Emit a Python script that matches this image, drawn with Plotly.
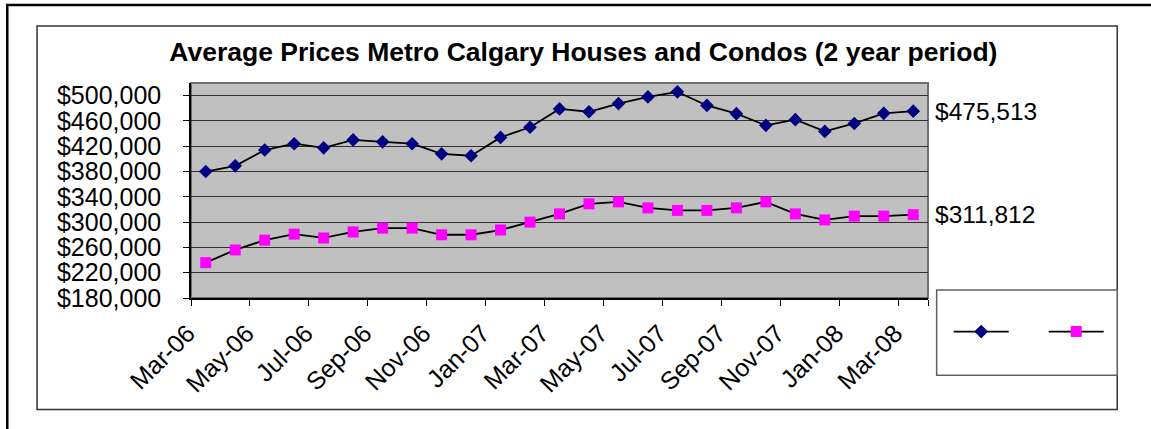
import plotly.graph_objects as go

# ---------------- data ----------------
months = ["Mar-06", "Apr-06", "May-06", "Jun-06", "Jul-06", "Aug-06", "Sep-06",
          "Oct-06", "Nov-06", "Dec-06", "Jan-07", "Feb-07", "Mar-07", "Apr-07",
          "May-07", "Jun-07", "Jul-07", "Aug-07", "Sep-07", "Oct-07", "Nov-07",
          "Dec-07", "Jan-08", "Feb-08", "Mar-08"]
houses = [380000, 389000, 414000, 424000, 417500, 430000, 427000, 424000,
          408000, 405000, 434000, 450000, 479000, 474500, 487500, 498000,
          506000, 484500, 471500, 453000, 462000, 443500, 456000, 472000, 475513]
condos = [236000, 256000, 271500, 281000, 275000, 284500, 290500, 290500,
          280000, 280000, 287500, 300000, 313000, 329000, 332000, 322500,
          318500, 318500, 322500, 332000, 313000, 303500, 309500, 309500, 311812]
y_ticks = [180000, 220000, 260000, 300000, 340000, 380000, 420000, 460000, 500000]
y_tick_labels = [f"${v:,}" for v in y_ticks]
title_text = "Average Prices Metro Calgary Houses and Condos (2 year period)"

W, H = 1151, 429
L, R, T, B = 191, 933, 83, 298  # plot area in pixels
FONT = "Arial, Liberation Sans, sans-serif"


def px(x):
    return (x - L) / (R - L)


def py(y):
    return (B - y) / (B - T)


fig = go.Figure()
fig.add_trace(go.Scatter(
    x=months, y=houses, mode="lines+markers", name=" ",
    line=dict(color="black", width=1.8),
    marker=dict(symbol="diamond", size=10.5, color="#000080", line=dict(width=0)),
))
fig.add_trace(go.Scatter(
    x=months, y=condos, mode="lines+markers", name=" ",
    line=dict(color="black", width=1.8),
    marker=dict(symbol="square", size=11, color="#FF00FF", line=dict(width=0)),
))

shapes = [
    # outer frame
    dict(type="rect", xref="paper", yref="paper", x0=px(6), x1=px(1165),
         y0=py(5), y1=py(445), line=dict(color="black", width=2.5),
         fillcolor="rgba(0,0,0,0)", layer="below"),
    # inner chart frame
    dict(type="rect", xref="paper", yref="paper", x0=px(36), x1=px(1123.5),
         y0=py(26), y1=py(409.5), line=dict(color="#333333", width=1.5),
         fillcolor="rgba(0,0,0,0)", layer="below"),
    # plot area border (grey)
    dict(type="rect", xref="paper", yref="paper", x0=0, x1=1, y0=0, y1=1,
         line=dict(color="#707070", width=2), fillcolor="rgba(0,0,0,0)",
         layer="below"),
    # legend box
    dict(type="rect", xref="paper", yref="paper", x0=px(941.7), x1=px(1123.5),
         y0=py(290), y1=py(375.3), line=dict(color="#606060", width=1.5),
         fillcolor="white", layer="above"),
]

annotations = []
for series in (houses, condos):
    v = series[-1]
    annotations.append(dict(
        x=months[-1], y=v, xref="x", yref="y", text=f"${v:,}",
        showarrow=False, xanchor="left", yanchor="middle", xshift=20,
        font=dict(family=FONT, size=24.5, color="black"),
    ))

fig.update_layout(
    width=W, height=H,
    margin=dict(l=L, r=W - R, t=T, b=H - B, pad=0),
    paper_bgcolor="white", plot_bgcolor="#C0C0C0",
    font=dict(family=FONT, color="black"),
    title=dict(text=f"<b>{title_text}</b>", x=px(586), xref="paper",
               xanchor="center", y=1 - 52 / H, yref="container",
               yanchor="middle", font=dict(family=FONT, size=26.5, color="black")),
    showlegend=True,
    legend=dict(orientation="h", x=px(1049.5), y=py(332), xanchor="center",
                yanchor="middle", bgcolor="rgba(0,0,0,0)", borderwidth=0,
                itemwidth=55, font=dict(size=14), entrywidth=25,
                entrywidthmode="pixels"),
    shapes=shapes, annotations=annotations,
)
fig.update_xaxes(
    type="category", range=[-0.5, 24.5], tickvals=months[::2],
    ticktext=months[::2], tickson="boundaries", tickangle=-45,
    ticks="outside", ticklen=6, tickcolor="black", tickwidth=1,
    ticklabelshift=-18, ticklabelstandoff=9,
    showline=True, linecolor="black", linewidth=1.5, showgrid=False,
    tickfont=dict(family=FONT, size=25, color="black"), zeroline=False,
)
fig.update_yaxes(
    range=[180000, 520000], tickvals=y_ticks, ticktext=y_tick_labels,
    ticks="outside", ticklen=6, tickcolor="black", tickwidth=1,
    ticklabelstandoff=17,
    showline=True, linecolor="black", linewidth=1.5,
    showgrid=True, gridcolor="#303030", gridwidth=1.2, zeroline=False,
    tickfont=dict(family=FONT, size=25, color="black"),
)

fig.write_html("out.html", config={"displayModeBar": False},
               post_script="document.body.style.margin='0';")
